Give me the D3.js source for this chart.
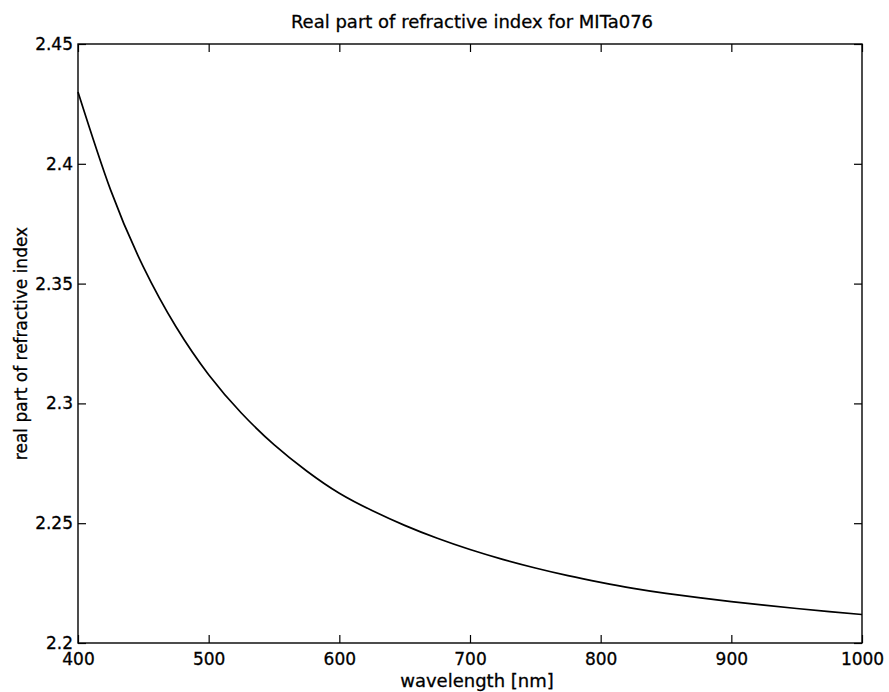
<!DOCTYPE html>
<meta charset="utf-8">
<style>
body { margin: 0; background: #fff; }
text { font-family: "DejaVu Sans", sans-serif; fill: #000; stroke: #000; stroke-width: 0.3px; }
.tick text { font-size: 17px; }
.line { fill: none; stroke: #000; stroke-width: 1.7px; }
</style>
<body>
<script src="https://d3js.org/d3.v7.min.js"></script>
<script>

// wavelength in nm and the real part of the refractive index
var wavelength = [400, 425, 450, 475, 500, 525, 550, 575, 600, 625, 650, 675, 700,
                  725, 750, 775, 800, 825, 850, 875, 900, 925, 950, 975, 1000];
var nReal = [2.4300, 2.3890, 2.3570, 2.3320, 2.3120, 2.2960, 2.2828, 2.2718, 2.2625,
             2.2553, 2.2491, 2.2437, 2.2390, 2.2349, 2.2313, 2.2281, 2.2253,
             2.2228, 2.2207, 2.2189, 2.2173, 2.2158, 2.2144, 2.2131, 2.2119];

var xTicks = [400, 500, 600, 700, 800, 900, 1000];
var yTicks = [2.2, 2.25, 2.3, 2.35, 2.4, 2.45];

var margin = {top: 44, right: 27, bottom: 49, left: 78},
    width = 889 - margin.left - margin.right,
    height = 692 - margin.top - margin.bottom;

var x = d3.scaleLinear().domain([400, 1000]).range([0, width]);
var y = d3.scaleLinear().domain([2.2, 2.45]).range([height, 0]);

var svg = d3.select("body").append("svg")
    .attr("width", 889)
    .attr("height", 692)
  .append("g")
    .attr("transform", "translate(" + margin.left + "," + margin.top + ")");

var fmt = function(d) { return String(+d.toFixed(2)); };

// bottom axis with labels, ticks pointing in
svg.append("g")
    .attr("transform", "translate(0," + height + ")")
    .call(d3.axisBottom(x).tickValues(xTicks).tickSizeInner(-8).tickSizeOuter(0).tickPadding(10).tickFormat(d3.format("d")))
    .call(function(g) { g.select(".domain").remove(); });

// left axis with labels
svg.append("g")
    .call(d3.axisLeft(y).tickValues(yTicks).tickSizeInner(-8).tickSizeOuter(0).tickPadding(5).tickFormat(fmt))
    .call(function(g) { g.select(".domain").remove(); });

// top and right ticks, no labels
svg.append("g")
    .call(d3.axisTop(x).tickValues(xTicks).tickSizeInner(-8).tickSizeOuter(0).tickFormat(""))
    .call(function(g) { g.select(".domain").remove(); });
svg.append("g")
    .attr("transform", "translate(" + width + ",0)")
    .call(d3.axisRight(y).tickValues(yTicks).tickSizeInner(-8).tickSizeOuter(0).tickFormat(""))
    .call(function(g) { g.select(".domain").remove(); });

svg.selectAll(".tick line").attr("stroke", "#000").attr("stroke-width", 1.2);

// box
svg.append("rect")
    .attr("width", width)
    .attr("height", height)
    .attr("fill", "none")
    .attr("stroke", "#000")
    .attr("stroke-width", 1.4);

// the curve
var line = d3.line()
    .x(function(d, i) { return x(wavelength[i]); })
    .y(function(d) { return y(d); })
    .curve(d3.curveNatural);

svg.append("path")
    .datum(nReal)
    .attr("class", "line")
    .attr("d", line);

// titles
svg.append("text")
    .attr("x", width / 2 + 2)
    .attr("y", -16)
    .attr("text-anchor", "middle")
    .style("font-size", "18px")
    .text("Real part of refractive index for MITa076");

svg.append("text")
    .attr("x", width / 2 + 7)
    .attr("y", height + 44)
    .attr("text-anchor", "middle")
    .style("font-size", "18px")
    .text("wavelength [nm]");

svg.append("text")
    .attr("transform", "translate(" + (-51) + "," + (height / 2) + ") rotate(-90)")
    .attr("text-anchor", "middle")
    .style("font-size", "17px")
    .text("real part of refractive index");

</script>
</body>
